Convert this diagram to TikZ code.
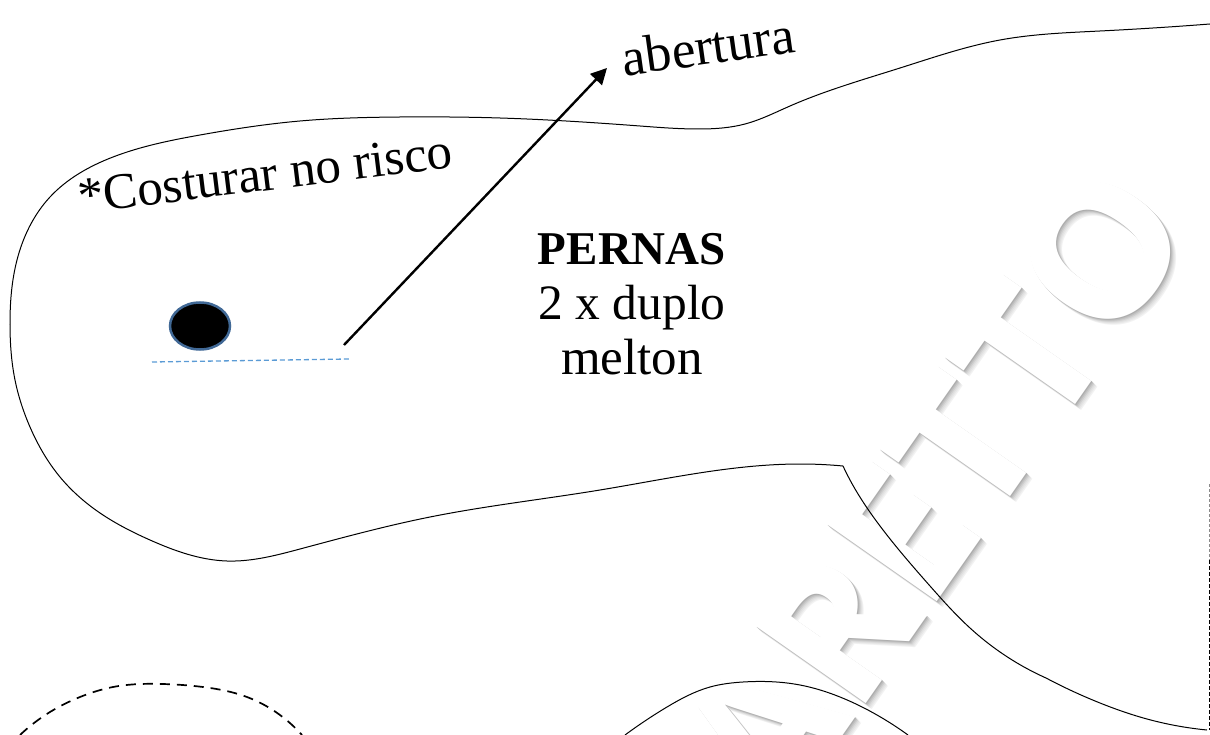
\documentclass[tikz,border=0pt]{standalone}
\usepackage{fontspec}
\setmainfont{Liberation Serif}
\newfontfamily\wmfont{Open Sans}
\usetikzlibrary{arrows.meta,shapes.geometric,hobby}
\newcommand{\wmlabel}{\wmfont\bfseries\fontsize{188}{188}\selectfont ARETTO}
\definecolor{holeedge}{RGB}{65,105,150}
\definecolor{seamblue}{RGB}{91,155,213}
\tikzset{
  pattern line/.style={black,line width=1pt,line join=round,use Hobby shortcut},
  big text/.style={inner sep=0pt,font=\fontsize{51}{55}\selectfont},
  wm/.style={inner sep=0pt,rotate=55,anchor=base}
}
\begin{document}
\begin{tikzpicture}[x=1pt,y=-1pt]
\useasboundingbox (0,0) rectangle (1210,735);
\begin{scope}
\clip (0,0) rectangle (1210,735);
\foreach \d/\g in {6/5,5/9,4/13,3/19,2/25,1/32}{
  \node[wm,text=black!\g] at (990+\d,526+\d) {\wmlabel};
}
\node[wm,text=white] (wmark) at (990,526) {\wmlabel};
\draw[pattern line] (1210,24) .. (1100,31) .. (1000,40) .. (900,68) .. (790,106) .. (745,124) .. (700,129) .. (640,126) .. (500,118) .. (400,117) .. (300,121) .. (200,135) .. (113,157) .. (50,197) .. (17,260) .. (10,325) .. (15,380) .. (30,427) .. (60,477) .. (100,513) .. (150,540) .. (227,561) .. (300,549) .. (430,517) .. (600,490) .. (800,464) .. (843,466);
\draw[pattern line] (843,466) .. (850,480) .. (880,526) .. (930,586) .. (970,628) .. (1000,652) .. (1046,678);
\draw[pattern line] (1046,678) .. (1100,703) .. (1147,719) .. (1207,730);
\draw[pattern line] (625,735) .. (667,707) .. (710,687) .. (743,682) .. (800,685) .. (840,697) .. (877,715) .. (908,735);
\draw[black!45,line width=0.8pt,dash pattern=on 3pt off 2pt] (1209,484) -- (1209,560);
\draw[black,line width=0.9pt,dash pattern=on 4pt off 2pt] (1209,560) -- (1209,730);
\draw[black,line width=1.7pt,dash pattern=on 10pt off 7pt,use Hobby shortcut] (20,735) .. (50,712) .. (80,697) .. (113,687) .. (163,684) .. (203,687) .. (247,697) .. (280,715) .. (302,735);
\end{scope}
\node[ellipse,fill=black,draw=holeedge,line width=2.5pt,minimum width=60pt,minimum height=47pt,inner sep=0pt] (hole) at (200,326) {};
\coordinate (seamA) at (152,362);
\coordinate (seamB) at (349,359);
\draw[seamblue,line width=1.3pt,dash pattern=on 5pt off 3pt] (seamA) -- (seamB);
\coordinate (arrowA) at (344,345);
\coordinate (arrowB) at (607,68);
\draw[black,line width=2.4pt,-{Triangle[length=16pt,width=16pt]}] (arrowA) -- (arrowB);
\node[big text,font=\fontsize{53}{55}\selectfont,rotate=8] (abertura) at (708,46) {abertura};
\node[big text,rotate=7] (costurar) at (265,174) {*Costurar no risco};
\node[big text,align=center,anchor=center] (pernas) at (632,304) {{\bfseries\fontsize{47}{55}\selectfont PERNAS}\\{\fontsize{49.5}{55}\selectfont 2 x duplo}\\melton};
\end{tikzpicture}
\end{document}
